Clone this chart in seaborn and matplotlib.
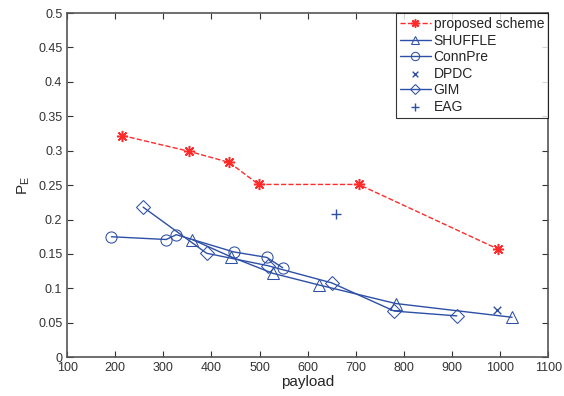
import matplotlib
matplotlib.use('Agg')
import matplotlib.pyplot as plt
import seaborn as sns
import pandas as pd

# Data
prop_x = [215, 354, 437, 498, 706, 996]
prop_y = [0.322, 0.299, 0.283, 0.251, 0.251, 0.157]

shuffle_x = [360, 440, 527, 623, 783, 1025]
shuffle_y = [0.171, 0.146, 0.122, 0.105, 0.078, 0.058]

connpre_x = [192, 306, 327, 446, 515, 548]
connpre_y = [0.175, 0.171, 0.178, 0.153, 0.145, 0.130]

dpdc_x = [994]
dpdc_y = [0.069]

gim_x = [258, 390, 517, 650, 780, 910]
gim_y = [0.218, 0.151, 0.133, 0.108, 0.067, 0.060]

eag_x = [658]
eag_y = [0.208]

red = '#ff2a2a'
blue = '#2d4fa5'

sns.set_style('ticks')
plt.rcParams['font.family'] = ['Liberation Sans', 'DejaVu Sans']

fig = plt.figure(figsize=(5.64, 3.96), dpi=100)
ax = fig.add_axes([0.119, 0.098, 0.853, 0.869])

# proposed scheme (matlab style asterisk)
df = pd.DataFrame({'payload': prop_x, 'pe': prop_y})
sns.lineplot(data=df, x='payload', y='pe', ax=ax, sort=False, color=red,
             linestyle='--', linewidth=1, marker=(8, 2, 0), markersize=8,
             markeredgecolor=red, markeredgewidth=1.1, label='proposed scheme')

# SHUFFLE
df = pd.DataFrame({'payload': shuffle_x, 'pe': shuffle_y})
sns.lineplot(data=df, x='payload', y='pe', ax=ax, sort=False, color=blue,
             linewidth=1, marker='^', markersize=8, markerfacecolor='none',
             markeredgecolor=blue, label='SHUFFLE')

# ConnPre
df = pd.DataFrame({'payload': connpre_x, 'pe': connpre_y})
sns.lineplot(data=df, x='payload', y='pe', ax=ax, sort=False, color=blue,
             linewidth=1, marker='o', markersize=8, markerfacecolor='none',
             markeredgecolor=blue, label='ConnPre')

# DPDC
sns.scatterplot(x=dpdc_x, y=dpdc_y, ax=ax, color=blue, marker='x', s=30,
                linewidth=1, label='DPDC')

# GIM
df = pd.DataFrame({'payload': gim_x, 'pe': gim_y})
sns.lineplot(data=df, x='payload', y='pe', ax=ax, sort=False, color=blue,
             linewidth=1, marker='D', markersize=7, markerfacecolor='none',
             markeredgecolor=blue, label='GIM')

# EAG
sns.scatterplot(x=eag_x, y=eag_y, ax=ax, color=blue, marker='+', s=60,
                linewidth=1, label='EAG')

ax.set_xlim(100, 1100)
ax.set_ylim(0, 0.5)
ax.set_xticks(range(100, 1101, 100))
ax.set_yticks([i * 0.05 for i in range(11)])
ax.set_yticklabels(['0', '0.05', '0.1', '0.15', '0.2', '0.25', '0.3',
                    '0.35', '0.4', '0.45', '0.5'])
ax.tick_params(direction='in', top=True, right=True, labelsize=9,
               length=4, colors='#333333')
for s in ax.spines.values():
    s.set_visible(True)
    s.set_color('#555555')
    s.set_linewidth(1.2)

ax.set_xlabel('payload', fontsize=11, labelpad=1)
ax.set_ylabel('P$_\\mathregular{E}$', fontsize=11, labelpad=4)

leg = ax.legend(loc='upper right', fontsize=10, frameon=True, fancybox=False,
                edgecolor='black', borderaxespad=0, handlelength=2.2,
                handletextpad=0.2, labelspacing=0.18, borderpad=0.3,
                markerscale=0.75)
leg.get_frame().set_linewidth(0.8)

fig.savefig('out.png', dpi=100)
